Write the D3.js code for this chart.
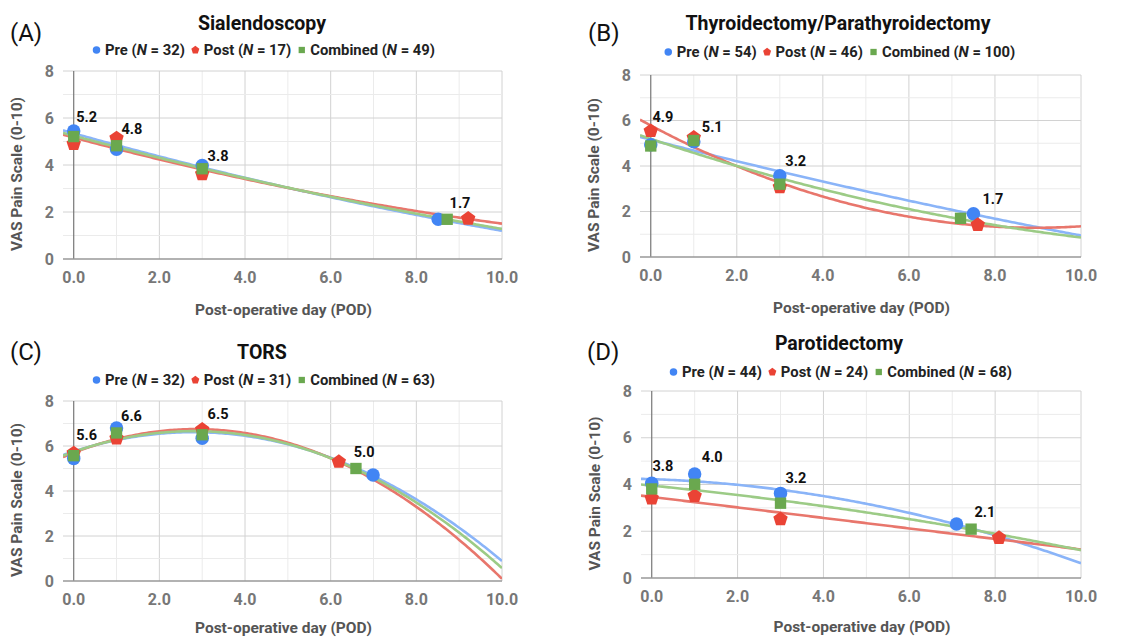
<!DOCTYPE html>
<html>
<head>
<meta charset="utf-8">
<script src="https://cdn.jsdelivr.net/npm/d3@7"></script>
<style>
  body { margin: 0; background: #fff; }
  svg { display: block; }
</style>
</head>
<body>
<script>
// panel text
var letters = ["(A)", "(B)", "(C)", "(D)"];
var titles = ["Sialendoscopy", "Thyroidectomy/Parathyroidectomy", "TORS", "Parotidectomy"];
var seriesNames = ["Pre", "Post", "Combined"];
var legendN = [[32, 17, 49], [54, 46, 100], [32, 31, 63], [44, 24, 68]];

// points: day (x) and VAS score (y)
var preDay = [[0, 1, 3, 8.51], [0, 1, 3, 7.5], [0, 1, 3, 6.99], [0, 1, 3, 7.1]];
var preVAS = [[5.45, 4.67, 3.98, 1.69], [4.93, 5.07, 3.57, 1.9], [5.45, 6.8, 6.34, 4.71], [4.05, 4.45, 3.62, 2.31]];
var postDay = [[0, 1, 3, 9.21], [0, 1, 3, 7.6], [0, 1, 3, 6.19], [0, 1, 3, 8.09]];
var postVAS = [[4.9, 5.14, 3.61, 1.72], [5.54, 5.25, 3.07, 1.41], [5.68, 6.34, 6.73, 5.3], [3.41, 3.51, 2.52, 1.72]];
var combDay = [[0, 1, 3, 8.72], [0, 1, 3, 7.2], [0, 1, 3, 6.59], [0, 1, 3, 7.44]];
var combVAS = [[5.21, 4.82, 3.84, 1.69], [4.88, 5.12, 3.2, 1.7], [5.57, 6.58, 6.5, 5.0], [3.81, 4.01, 3.2, 2.09]];
// trendline order per series (pre, post, combined)
var trendOrder = [[2, 2, 2], [2, 2, 2], [2, 2, 2], [2, 1, 2]];

// value labels (combined means) and where they sit, in data units
var labelText = [["5.2", "4.8", "3.8", "1.7"], ["4.9", "5.1", "3.2", "1.7"], ["5.6", "6.6", "6.5", "5.0"], ["3.8", "4.0", "3.2", "2.1"]];
var labelDay = [[0.3, 1.36, 3.37, 9.02], [0.28, 1.43, 3.37, 7.95], [0.3, 1.35, 3.37, 6.78], [0.26, 1.41, 3.36, 7.76]];
var labelVAS = [[6.05, 5.52, 4.39, 2.39], [6.17, 5.71, 4.22, 2.54], [6.49, 7.35, 7.41, 5.72], [4.79, 5.18, 4.3, 2.83]];

var xTicks = [0, 2, 4, 6, 8, 10];
var yTicks = [0, 2, 4, 6, 8];
var xTitle = "Post-operative day (POD)";
var yTitle = "VAS Pain Scale (0-10)";

// layout of the four panels
var boxes = [
  {left: 63, right: 502, top: 71, bottom: 259, cx: 262, titleY: 23, legendY: 50, letterX: 10, letterY: 33, xTitleY: 310},
  {left: 640, right: 1081, top: 75, bottom: 257, cx: 838, titleY: 23, legendY: 52, letterX: 588, letterY: 33, xTitleY: 308},
  {left: 63, right: 502, top: 401, bottom: 581, cx: 262, titleY: 352, legendY: 380, letterX: 10, letterY: 352, xTitleY: 628},
  {left: 641, right: 1081, top: 391, bottom: 578, cx: 839, titleY: 343, legendY: 372, letterX: 587, letterY: 352, xTitleY: 627}
];
var pointColors = ["#4285f4", "#ea4335", "#6aa84f"];
var lineColors = ["#8ab4f8", "#e8766c", "#9ccb86"];

var svg = d3.select("body").append("svg")
  .attr("width", 1145)
  .attr("height", 637)
  .style("font-family", "Roboto, Arial, sans-serif");

function pentagon(r) {
  var pts = d3.range(5).map(function(k) {
    var a = -Math.PI / 2 + k * 2 * Math.PI / 5;
    return [r * Math.cos(a), r * Math.sin(a)];
  });
  return "M" + pts.join("L") + "Z";
}
function marker(g, i, size) {
  if (i == 0) return g.append("circle").attr("r", size * 0.5);
  if (i == 1) return g.append("path").attr("d", pentagon(size * 0.56));
  return g.append("rect").attr("x", -size * 0.42).attr("y", -size * 0.42)
    .attr("width", size * 0.84).attr("height", size * 0.84);
}

// least squares polynomial (the sheet trendline), order 1 or 2
function polyFit(xs, ys, order) {
  var n = order + 1;
  var A = d3.range(n).map(function(r) {
    return d3.range(n + 1).map(function(c) {
      return d3.sum(xs, function(x, i) {
        return c < n ? Math.pow(x, r + c) : ys[i] * Math.pow(x, r);
      });
    });
  });
  for (var c = 0; c < n; c++) {
    for (var r = c + 1; r < n; r++) {
      var f = A[r][c] / A[c][c];
      for (var k = c; k <= n; k++) A[r][k] -= f * A[c][k];
    }
  }
  var b = [];
  for (var r = n - 1; r >= 0; r--) {
    var s = A[r][n];
    for (var k = r + 1; k < n; k++) s -= A[r][k] * b[k];
    b[r] = s / A[r][r];
  }
  return function(x) { return d3.sum(b, function(v, k) { return v * Math.pow(x, k); }); };
}

boxes.forEach(function(box, p) {
  var g = svg.append("g");
  var x = d3.scaleLinear().domain([-0.25, 10]).range([box.left, box.right]);
  var y = d3.scaleLinear().domain([0, 8]).range([box.bottom, box.top]);

  // grid
  d3.range(1, 11).forEach(function(d) {
    g.append("line").attr("x1", x(d)).attr("x2", x(d)).attr("y1", y(0)).attr("y2", y(8))
      .attr("stroke", d % 2 ? "#ebebeb" : "#d2d2d2").attr("stroke-width", 1);
  });
  d3.range(1, 9).forEach(function(d) {
    g.append("line").attr("x1", x(-0.25)).attr("x2", x(10)).attr("y1", y(d)).attr("y2", y(d))
      .attr("stroke", d % 2 ? "#ebebeb" : "#d2d2d2").attr("stroke-width", 1);
  });
  g.append("line").attr("x1", x(0)).attr("x2", x(0)).attr("y1", y(0)).attr("y2", y(8))
    .attr("stroke", "#777").attr("stroke-width", 1.2);
  g.append("line").attr("x1", x(-0.25)).attr("x2", x(10)).attr("y1", y(0)).attr("y2", y(0))
    .attr("stroke", "#999").attr("stroke-width", 1.5);

  // tick labels
  g.selectAll(".xt").data(xTicks).enter().append("text")
    .attr("x", function(d) { return x(d); }).attr("y", box.bottom + 18).attr("dy", "0.35em")
    .attr("text-anchor", "middle").attr("font-size", 16).attr("font-weight", "bold").attr("fill", "#777")
    .text(function(d) { return d3.format(".1f")(d); });
  g.selectAll(".yt").data(yTicks).enter().append("text")
    .attr("x", box.left - 9).attr("y", function(d) { return y(d); }).attr("dy", "0.35em")
    .attr("text-anchor", "end").attr("font-size", 16).attr("font-weight", "bold").attr("fill", "#777")
    .text(function(d) { return d; });

  // axis titles
  g.append("text").attr("x", (box.left + box.right) / 2 + 1).attr("y", box.xTitleY).attr("dy", "0.35em")
    .attr("text-anchor", "middle").attr("font-size", 15.5).attr("font-weight", "bold").attr("fill", "#555")
    .text(xTitle);
  g.append("text").attr("transform", "translate(" + (box.left - 46) + "," + ((box.top + box.bottom) / 2 + 9) + ") rotate(-90)")
    .attr("dy", "0.35em").attr("text-anchor", "middle").attr("font-size", 15.5).attr("font-weight", "bold").attr("fill", "#555")
    .text(yTitle);

  // panel letter and title
  g.append("text").attr("x", box.letterX).attr("y", box.letterY).attr("dy", "0.35em")
    .attr("font-size", 24).attr("fill", "#111").text(letters[p]);
  g.append("text").attr("x", box.cx).attr("y", box.titleY).attr("dy", "0.35em")
    .attr("text-anchor", "middle").attr("font-size", 19.5).attr("font-weight", "bold").attr("fill", "#111")
    .text(titles[p]);

  // legend
  var leg = g.append("g");
  var cur = 0;
  seriesNames.forEach(function(name, i) {
    marker(leg.append("g").attr("transform", "translate(" + (cur + 3.5) + "," + box.legendY + ")"), i, 7.5)
      .attr("fill", pointColors[i]);
    cur += 12;
    var t = leg.append("text").attr("x", cur).attr("y", box.legendY).attr("dy", "0.35em")
      .attr("font-size", 14.8).attr("font-weight", "bold").attr("fill", "#222");
    t.append("tspan").text(name + " (");
    t.append("tspan").attr("font-style", "italic").text("N");
    t.append("tspan").text(" = " + legendN[p][i] + ")");
    cur += t.node().getComputedTextLength() + 7;
  });
  leg.attr("transform", "translate(" + (box.cx + 2 - (cur - 7) / 2) + ",0)");

  // trendlines
  var clipId = "clip" + p;
  g.append("clipPath").attr("id", clipId).append("rect")
    .attr("x", box.left).attr("y", box.top).attr("width", box.right - box.left).attr("height", box.bottom - box.top);
  var days = [preDay[p], postDay[p], combDay[p]];
  var vas = [preVAS[p], postVAS[p], combVAS[p]];
  var line = d3.line().x(function(d) { return x(d[0]); }).y(function(d) { return y(d[1]); });
  var xs = d3.range(-0.25, 10.001, 0.05);
  days.forEach(function(dd, i) {
    var f = polyFit(dd, vas[i], trendOrder[p][i]);
    g.append("path").attr("clip-path", "url(#" + clipId + ")")
      .attr("d", line(xs.map(function(v) { return [v, f(v)]; })))
      .attr("fill", "none").attr("stroke", lineColors[i]).attr("stroke-width", 2.6);
  });

  // points
  days.forEach(function(dd, i) {
    dd.forEach(function(d, j) {
      marker(g.append("g").attr("transform", "translate(" + x(d) + "," + y(vas[i][j]) + ")"), i, 13.5)
        .attr("fill", pointColors[i]);
    });
  });

  // value labels
  labelText[p].forEach(function(t, j) {
    g.append("text").attr("x", x(labelDay[p][j])).attr("y", y(labelVAS[p][j])).attr("dy", "0.35em")
      .attr("text-anchor", "middle").attr("font-size", 14.5).attr("font-weight", "bold").attr("fill", "#111")
      .text(t);
  });
});
</script>
</body>
</html>
